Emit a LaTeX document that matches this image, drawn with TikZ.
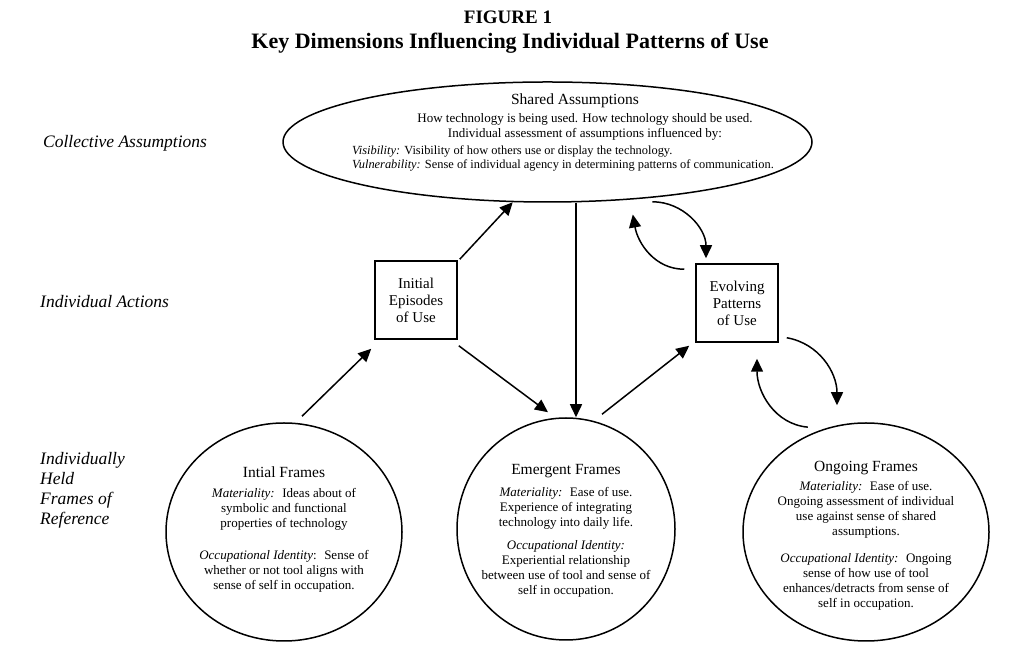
\documentclass[tikz,border=0pt]{standalone}
\usepackage{fontspec}
\setmainfont{Liberation Serif}
\usetikzlibrary{arrows.meta,shapes.geometric,positioning}

\begin{document}
\begin{tikzpicture}[x=1pt,y=1pt,
  framecirc/.style={draw,ellipse,line width=1.5pt,inner sep=0pt},
  framebox/.style={draw,rectangle,line width=1.5pt,minimum width=82pt,minimum height=78pt,
    inner sep=0pt,align=center,font=\fontsize{15}{17}\selectfont},
  body/.style={align=center,inner sep=0pt,font=\fontsize{13}{15}\selectfont},
  level/.style={anchor=west,align=left,inner sep=0pt,font=\fontsize{17.5}{20}\selectfont\itshape},
  hd/.style={font=\fontsize{15.5}{17}\selectfont},
  ar/.style={-{Triangle[length=13pt,width=12pt]},line width=1.5pt}]
\useasboundingbox (0,0) rectangle (1016,652);
% --- title ---
\node[font=\fontsize{19}{22}\selectfont\bfseries] (fig) at (508,635) {FIGURE 1};
\node[font=\fontsize{22}{24}\selectfont\bfseries] (ttl) at (510,609)
  {Key Dimensions Influencing Individual Patterns of Use};
% --- level labels on the left ---
\node[level] (lcol) at (43,509) {Collective Assumptions};
\node[level] (lind) at (40,350) {Individual Actions};
\node[level] (lhel) at (40,162) {Individually\\Held\\Frames of\\Reference};
% --- shared assumptions ---
\node[framecirc,minimum width=529pt,minimum height=120pt] (shared) at (547.5,510) {};
\node[hd] (sat) at (575,551) {Shared Assumptions};
\node[body] (sab) at (585,525.5)
  {How technology is being used. How technology should be used.\\
   Individual assessment of assumptions influenced by:};
\node[body,align=left,anchor=west,font=\fontsize{12.4}{14}\selectfont] (sac) at (352,494)
  {\textit{Visibility:} Visibility of how others use or display the technology.\\
   \textit{Vulnerability:} Sense of individual agency in determining patterns of communication.};
% --- individual actions ---
\node[framebox] (ieu) at (416,352) {Initial\\Episodes\\of Use};
\node[framebox] (epu) at (737,349) {Evolving\\Patterns\\of Use};
% --- frames of reference ---
\node[framecirc,minimum width=236pt,minimum height=218pt] (ifr) at (284,120) {};
\node[framecirc,minimum width=218pt,minimum height=222pt] (efr) at (566,123) {};
\node[framecirc,minimum width=246pt,minimum height=218pt] (ofr) at (866,120) {};
\node[body] (ifrt) at ([yshift=2pt]ifr.center)
  {{\fontsize{15.5}{15}\selectfont Intial Frames}\\[5pt]
   \textit{Materiality:}~ Ideas about of\\
   symbolic and functional\\
   properties of technology\\[17pt]
   \textit{Occupational Identity}:~ Sense of\\
   whether or not tool aligns with\\
   sense of self in occupation.};
\node[body] (efrt) at ([yshift=-2pt]efr.center)
  {{\fontsize{15.5}{15}\selectfont Emergent Frames}\\[7pt]
   \textit{Materiality:}~ Ease of use.\\
   Experience of integrating\\
   technology into daily life.\\[8pt]
   \textit{Occupational Identity:}\\
   Experiential relationship\\
   between use of tool and sense of\\
   self in occupation.};
\node[body] (ofrt) at ([yshift=-4pt]ofr.center)
  {{\fontsize{15.5}{15}\selectfont Ongoing Frames}\\[4pt]
   \textit{Materiality:}~ Ease of use.\\
   Ongoing assessment of individual\\
   use against sense of shared\\
   assumptions.\\[12pt]
   \textit{Occupational Identity:}~ Ongoing\\
   sense of how use of tool\\
   enhances/detracts from sense of\\
   self in occupation.};
% --- straight arrows ---
\draw[ar] ([xshift=18pt,yshift=6pt]ifr.north) -- ([xshift=-3pt,yshift=-9pt]ieu.south west);
\draw[ar] ([xshift=2pt,yshift=1pt]ieu.north east) -- (shared.240);
\draw[ar] ([xshift=1pt,yshift=-6pt]ieu.south east) -- ([xshift=-18pt,yshift=5pt]efr.north);
\draw[ar] ([xshift=28.5pt]shared.south) -- ([xshift=28.5pt]shared.south |- efr.north);
\draw[ar] ([xshift=36pt,yshift=3pt]efr.north) -- ([xshift=-6pt,yshift=-3pt]epu.south west);
% --- feedback loops ---
\draw[ar] ([yshift=-4pt]shared.332) to[out=0,in=90] ([xshift=-31pt,yshift=5pt]epu.north);
\draw[ar] ([xshift=-11pt,yshift=-6pt]epu.north west) to[out=180,in=-80] ([yshift=-15pt]shared.326);
\draw[ar] ([xshift=8pt,yshift=5pt]epu.south east) to[out=-10,in=90] ([xshift=-29pt,yshift=17pt]ofr.north);
\draw[ar] ([yshift=8pt]ofr.121) to[out=175,in=-90] ([xshift=20pt,yshift=-16pt]epu.south);
\end{tikzpicture}
\end{document}
